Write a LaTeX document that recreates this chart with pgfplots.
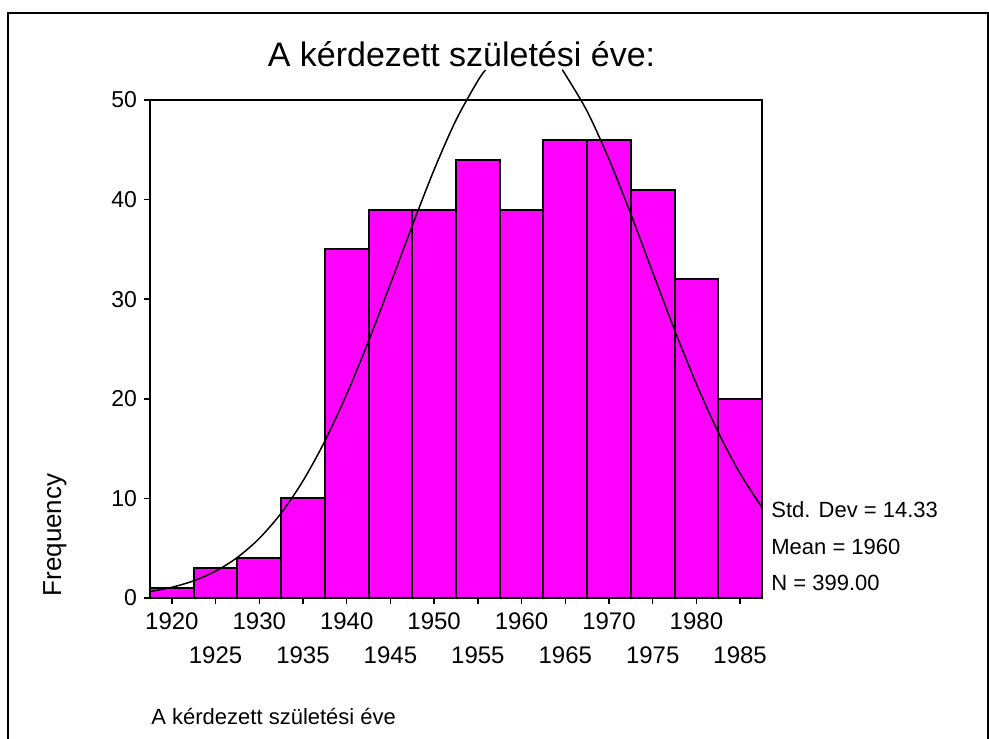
\documentclass[border=0pt]{standalone}
\usepackage{fontspec}
\setmainfont{Liberation Sans}
\usepackage{pgfplots}
\pgfplotsset{compat=1.18}
\definecolor{barmag}{HTML}{FF00FF}
\begin{document}
\begin{tikzpicture}[x=0.5pt,y=0.5pt]
\begin{axis}[
  at={(0,0)}, anchor=south west,
  scale only axis, width=306pt, height=249pt,
  xmin=1917.5, xmax=1987.5, ymin=0, ymax=50,
  axis line style={line width=0.9pt},
  tick style={line width=0.75pt, black},
  tick align=outside, major tick length=3pt,
  xtick pos=bottom, ytick pos=left,
  xtick={1920,1930,...,1980},
  xticklabel style={yshift=-1pt},
  extra x ticks={1925,1935,...,1985},
  extra x tick style={xticklabel style={yshift=-17pt}},
  ytick={0,10,...,50},
  /pgf/number format/1000 sep={},
  /pgf/number format/assume math mode=true,
  xticklabel style={font=\fontsize{12}{14}\selectfont},
  yticklabel style={font=\fontsize{11.5}{13}\selectfont},
  clip=false,
]
\addplot[ybar, bar width=5, bar shift=0pt, fill=barmag, draw=black, line width=1pt] coordinates {
(1920,1) (1925,3) (1930,4) (1935,10) (1940,35) (1945,39) (1950,39)
(1955,44) (1960,39) (1965,46) (1970,46) (1975,41) (1980,32) (1985,20)};
\addplot[black, line width=0.75pt, smooth, mark=none] coordinates {
(1917.5,0.649) (1920,1.075) (1922.5,1.729) (1925,2.696) (1927.5,4.078)
(1930,5.984) (1932.5,8.517) (1935,11.761) (1937.5,15.752) (1940,20.464)
(1942.5,25.789) (1945,31.528) (1947.5,37.386) (1950,43.003) (1952.5,47.983)
(1955,51.935) (1955.86,53.0)};
\addplot[black, line width=0.75pt, smooth, mark=none] coordinates {
(1964.64,53.0) (1965,52.571) (1967.5,48.868) (1970,44.063) (1972.5,38.540)
(1975,32.701) (1977.5,26.912) (1980,21.485) (1982.5,16.638) (1985,12.499)
(1987.5,9.107)};
\end{axis}
\node[anchor=base, font=\fontsize{17}{20}\selectfont, inner sep=0pt] at (311.5,531.5) {A kérdezett születési éve:};
\node[rotate=90, anchor=base, font=\fontsize{13}{15}\selectfont, inner sep=0pt] at (-89,63) {Frequency};
\node[anchor=base west, font=\fontsize{11}{13}\selectfont, inner sep=0pt] at (621,80) {Std. Dev = 14.33};
\node[anchor=base west, font=\fontsize{11}{13}\selectfont, inner sep=0pt] at (621,44) {Mean = 1960};
\node[anchor=base west, font=\fontsize{11}{13}\selectfont, inner sep=0pt] at (621,8) {N = 399.00};
\node[anchor=base west, font=\fontsize{11}{13}\selectfont, inner sep=0pt] at (1,-126) {A kérdezett születési éve};
\draw[line width=0.75pt] (-142,-160) -- (-142,585) -- (838,585) -- (838,-160);
\pgfresetboundingbox
\path[use as bounding box] (-150,-140) rectangle (839,598);
\end{tikzpicture}
\end{document}
